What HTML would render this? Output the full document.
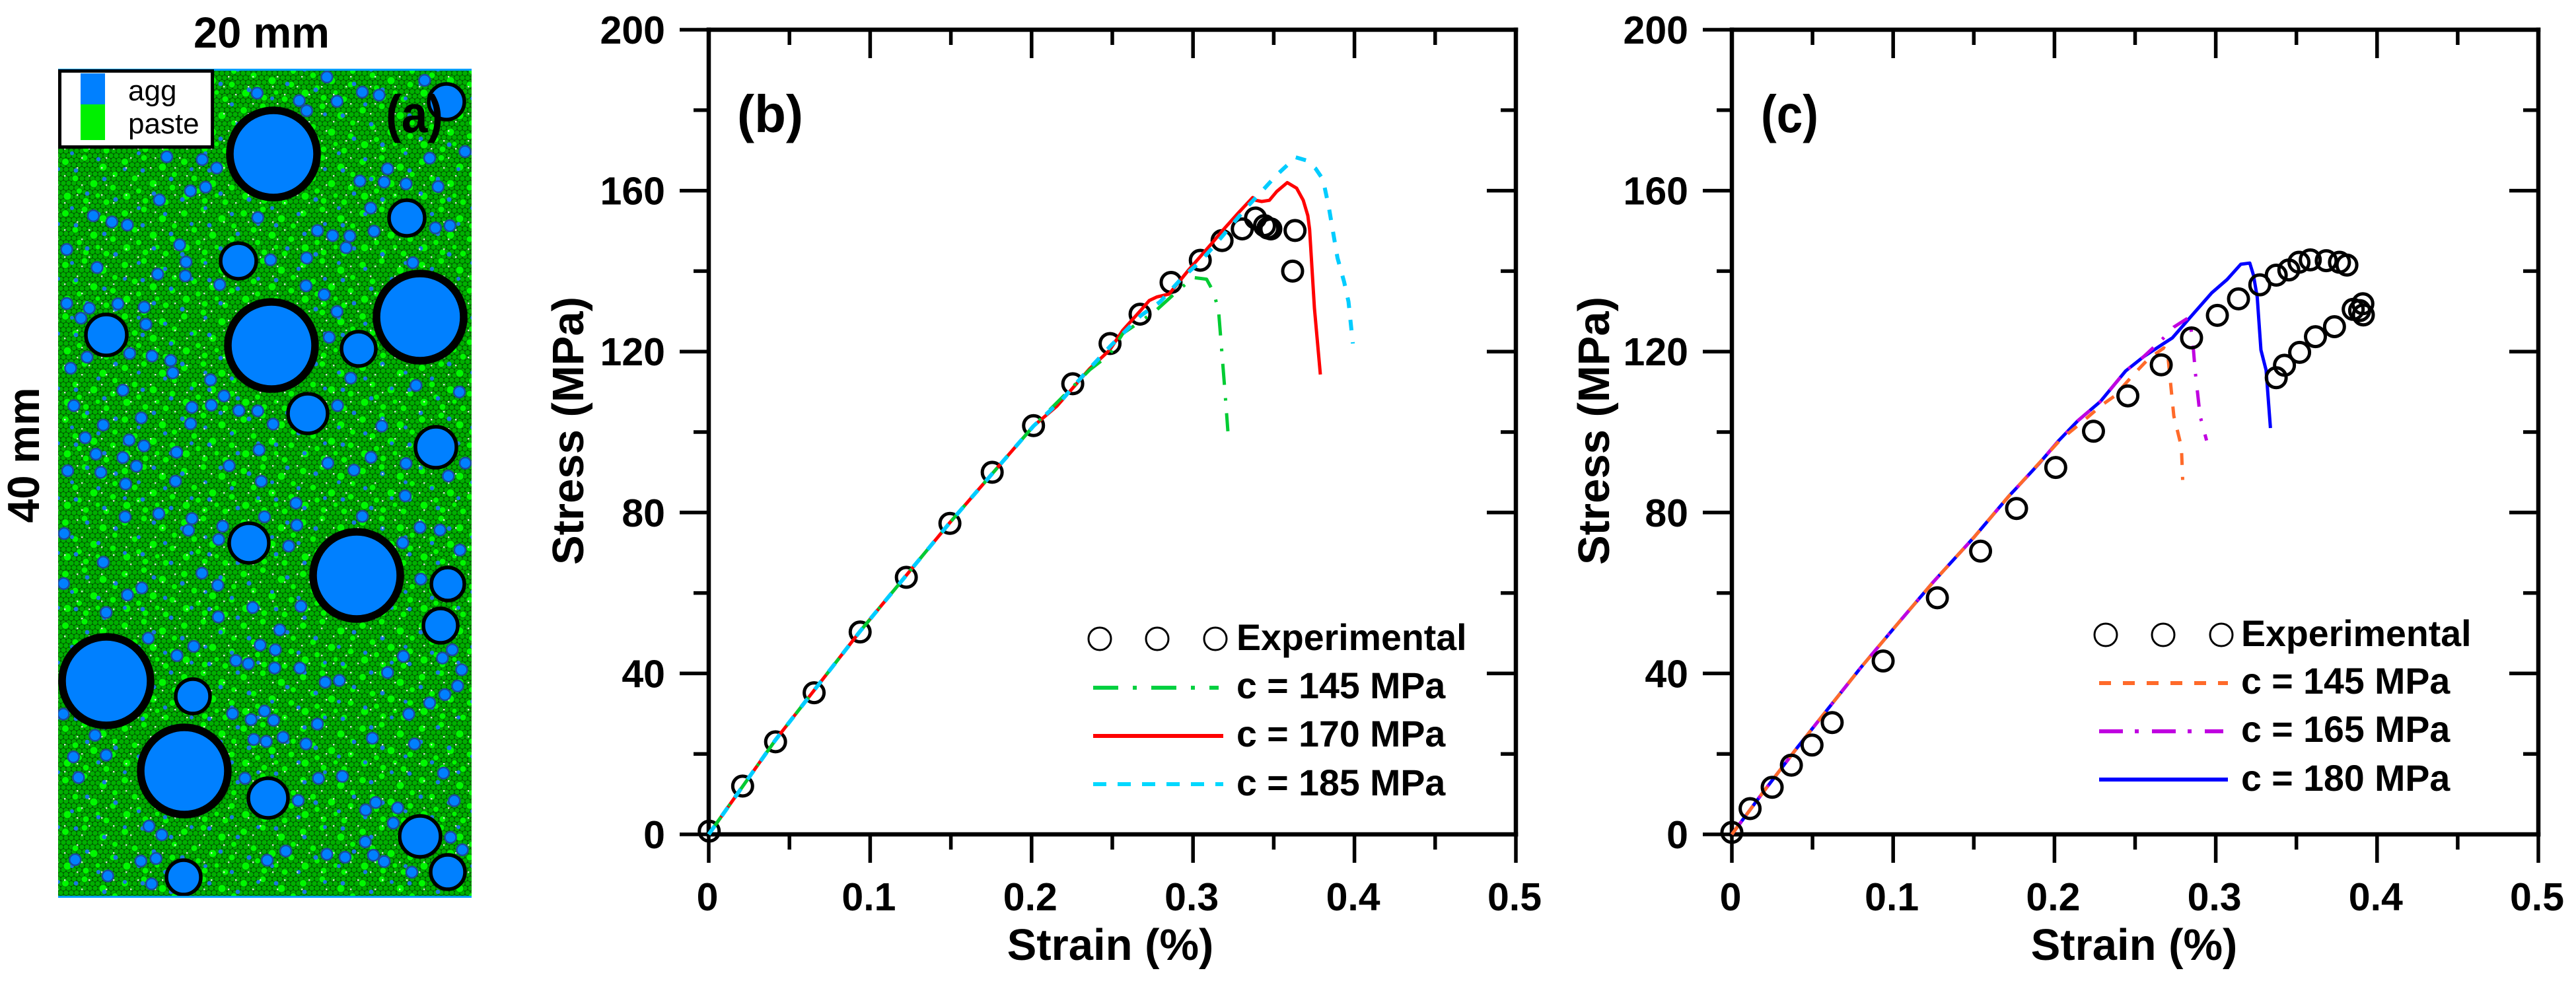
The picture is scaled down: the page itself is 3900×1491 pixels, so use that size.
<!DOCTYPE html>
<html lang="en">
<head>
<meta charset="utf-8">
<title>Specimen and stress-strain curves</title>
<style>
html,body{margin:0;padding:0;background:#fff;}
svg{display:block;}
text{font-family:"Liberation Sans",Arial,sans-serif;fill:#000;}
.b{font-weight:bold;}
</style>
</head>
<body>
<svg id="figure" xmlns="http://www.w3.org/2000/svg" width="3900" height="1491" viewBox="0 0 3900 1491">
<defs>
<pattern id="paste-cells" patternUnits="userSpaceOnUse" width="8" height="13.86">
<rect width="8" height="13.86" fill="#005000"/>
<circle cx="0" cy="0" r="3.7" fill="#00b000"/><circle cx="8" cy="0" r="3.7" fill="#00b000"/>
<circle cx="0" cy="13.86" r="3.7" fill="#00b000"/><circle cx="8" cy="13.86" r="3.7" fill="#00b000"/>
<circle cx="4" cy="6.93" r="3.7" fill="#00b000"/>
</pattern>
<pattern id="paste-bright" patternUnits="userSpaceOnUse" width="90" height="78">
<g fill="#00f800" stroke="#008a00" stroke-width="1">
<circle cx="9" cy="11" r="5.5"/><circle cx="38" cy="5" r="5"/><circle cx="66" cy="19" r="6"/>
<circle cx="24" cy="36" r="5"/><circle cx="52" cy="44" r="6"/><circle cx="81" cy="50" r="5"/>
<circle cx="12" cy="63" r="6"/><circle cx="40" cy="70" r="5"/><circle cx="71" cy="72" r="5"/>
<circle cx="84" cy="30" r="4.5"/><circle cx="30" cy="55" r="4.5"/><circle cx="58" cy="62" r="4"/>
</g>
</pattern>
<pattern id="paste-blue" patternUnits="userSpaceOnUse" width="101" height="83">
<g fill="#1a78e0">
<circle cx="14" cy="9" r="3.4"/><circle cx="57" cy="22" r="3.4"/><circle cx="88" cy="7" r="3"/>
<circle cx="31" cy="44" r="3.4"/><circle cx="74" cy="53" r="3.6"/><circle cx="8" cy="66" r="3"/>
<circle cx="48" cy="75" r="3.2"/>
</g>
</pattern>
<pattern id="paste-specks" patternUnits="userSpaceOnUse" width="37" height="41">
<g fill="#cfe4cf"><rect x="5" y="7" width="2.4" height="2.4"/><rect x="23" y="19" width="2.4" height="2.4"/><rect x="12" y="33" width="2.4" height="2.4"/></g>
</pattern>
<clipPath id="specimen-clip"><rect x="88" y="105" width="626" height="1253"/></clipPath>
</defs>

<g id="panel-a">
<text class="b" x="396" y="72" font-size="66" text-anchor="middle" textLength="206" lengthAdjust="spacingAndGlyphs">20 mm</text>
<text class="b" transform="translate(59,689) rotate(-90)" font-size="68" text-anchor="middle" textLength="205" lengthAdjust="spacingAndGlyphs">40 mm</text>
<g clip-path="url(#specimen-clip)">
<rect x="88" y="105" width="626" height="1253" fill="url(#paste-cells)"/>
<rect x="88" y="105" width="626" height="1253" fill="url(#paste-bright)"/>
<rect x="88" y="105" width="626" height="1253" fill="url(#paste-blue)"/>
<rect x="88" y="105" width="626" height="1253" fill="url(#paste-specks)"/>
<g id="particles"></g>
</g>
<rect x="88" y="104" width="626" height="3" fill="#00a0ff"/>
<rect x="88" y="1356" width="626" height="3" fill="#00a0ff"/>
<g>
<rect x="90.500" y="107.500" width="231" height="115" fill="#fff" stroke="#000" stroke-width="5"/>
<rect x="122" y="111" width="37" height="47" fill="#0080ff"/>
<rect x="122" y="158" width="37" height="54" fill="#00f000"/>
<text x="194" y="152" font-size="44">agg</text>
<text x="194" y="202" font-size="44">paste</text>
</g>
<text class="b" x="584" y="200" font-size="80" textLength="87" lengthAdjust="spacingAndGlyphs">(a)</text>
</g>

<g id="panel-b">
<text class="b" transform="translate(883,652) rotate(-90)" font-size="67" text-anchor="middle">Stress (MPa)</text>
<text class="b" x="1681" y="1453" font-size="67" text-anchor="middle">Strain (%)</text>
<text class="b" x="1116" y="200" font-size="80" textLength="100" lengthAdjust="spacingAndGlyphs">(b)</text>
<g id="panel-b-plot"></g>
<g>
<g fill="none" stroke="#000" stroke-width="3">
<circle cx="1665" cy="967" r="17"/><circle cx="1752" cy="967" r="17"/><circle cx="1840" cy="967" r="17"/>
</g>
<text class="b" x="1872" y="984" font-size="55.500">Experimental</text>
<line x1="1655" y1="1041" x2="1845" y2="1041" stroke="#00d040" stroke-width="6" stroke-dasharray="38 22 6 22"/>
<text class="b" x="1872" y="1057" font-size="55.500">c = 145 MPa</text>
<line x1="1655" y1="1114" x2="1852" y2="1114" stroke="#ff0000" stroke-width="6"/>
<text class="b" x="1872" y="1130" font-size="55.500">c = 170 MPa</text>
<line x1="1655" y1="1187" x2="1852" y2="1187" stroke="#00d8ff" stroke-width="6" stroke-dasharray="20 17"/>
<text class="b" x="1872" y="1204" font-size="55.500">c = 185 MPa</text>
</g>
</g>

<g id="panel-c">
<text class="b" transform="translate(2436,652) rotate(-90)" font-size="67" text-anchor="middle">Stress (MPa)</text>
<text class="b" x="3231" y="1453" font-size="67" text-anchor="middle">Strain (%)</text>
<text class="b" x="2666" y="200" font-size="80" textLength="87" lengthAdjust="spacingAndGlyphs">(c)</text>
<g id="panel-c-plot"></g>
<g>
<g fill="none" stroke="#000" stroke-width="3">
<circle cx="3188" cy="961" r="17"/><circle cx="3275" cy="961" r="17"/><circle cx="3363" cy="961" r="17"/>
</g>
<text class="b" x="3393" y="978" font-size="55.500">Experimental</text>
<line x1="3178" y1="1034" x2="3373" y2="1034" stroke="#ff6a2a" stroke-width="6" stroke-dasharray="18 18"/>
<text class="b" x="3393" y="1050" font-size="55.500">c = 145 MPa</text>
<line x1="3178" y1="1107" x2="3366" y2="1107" stroke="#c000e0" stroke-width="6" stroke-dasharray="36 18 6 20"/>
<text class="b" x="3393" y="1123" font-size="55.500">c = 165 MPa</text>
<line x1="3178" y1="1180" x2="3373" y2="1180" stroke="#0000ff" stroke-width="6"/>
<text class="b" x="3393" y="1197" font-size="55.500">c = 180 MPa</text>
</g>
</g>
</svg>

<script>
// Shared axis labels
const strainMajorTicks = [0, 0.1, 0.2, 0.3, 0.4, 0.5];
const strainTickLabels = ["0", "0.1", "0.2", "0.3", "0.4", "0.5"];
const strainMinorTicks = [0.05, 0.15, 0.25, 0.35, 0.45];
const stressMajorTicks = [0, 40, 80, 120, 160, 200];
const stressTickLabels = ["0", "40", "80", "120", "160", "200"];
const stressMinorTicks = [20, 60, 100, 140, 180];

// Panel (b)
const bExpStrain = [0.0003,0.021,0.0414,0.0653,0.0938,0.1224,0.1494,0.1756,0.2012,0.2255,0.2486,0.2672,0.2864,0.3045,0.318,0.3305,0.3387,0.3443,0.3464,0.3482,0.3632,0.3617];
const bExpStress = [0.8,12,23,35.2,50.3,63.9,77.3,90,101.6,112,122,129.3,137.2,142.7,147.6,150.5,153.2,151.3,150.7,150.5,150.1,140];
const bC170Strain = [0,0.0414,0.0938,0.1494,0.2012,0.2156,0.2361,0.2484,0.2565,0.2675,0.2729,0.2777,0.2852,0.2975,0.311,0.3192,0.3288,0.337,0.339,0.3425,0.3473,0.3519,0.3584,0.3642,0.3683,0.3711,0.3722,0.3752,0.3789];
const bC170Stress = [0,23.5,50.5,77.5,101.5,106.4,115.8,120.4,125.3,130.2,132.7,133.6,134.3,140.4,146.6,150.5,154.8,158.3,157.6,157.3,157.6,159.8,162,160.6,157.6,153.8,150.4,130.8,114.3];
const bC145Strain = [0,0.0414,0.0938,0.1494,0.2012,0.2361,0.2484,0.2565,0.2675,0.277,0.2905,0.3002,0.3084,0.313,0.3159,0.3179,0.32,0.3216];
const bC145Stress = [0,23.5,50.5,77.5,101.5,115.5,119.3,124.5,127.5,130.2,135.1,138.4,138,134.6,129.7,119.8,108.9,100.2];
const bC185Strain = [0,0.0414,0.0938,0.1494,0.2012,0.2197,0.232,0.2484,0.2675,0.2797,0.2934,0.3043,0.3138,0.3329,0.3425,0.3519,0.3636,0.3703,0.3759,0.3805,0.3841,0.3895,0.3936,0.3963,0.399];
const bC185Stress = [0,23.5,50.5,77.5,101.5,108.4,114.1,121.2,128.9,132.4,138.4,142.3,146.6,155.7,159.8,163.9,168.3,167.5,165.5,162.8,156,143.3,137.3,132.4,122];

// Panel (c)
const cExpStrain = [0,0.0113,0.025,0.0369,0.0497,0.0622,0.0938,0.1274,0.1542,0.1765,0.2008,0.2242,0.2455,0.2662,0.285,0.301,0.3141,0.3273,0.3375,0.3453,0.3516,0.3586,0.3685,0.3767,0.3813,0.3892,0.3912,0.3915,0.3852,0.3736,0.3618,0.352,0.3426,0.3375];
const cExpStress = [0.5,6.4,11.7,17.2,22.2,27.8,43.1,58.8,70.4,81,91.2,100.2,109,116.7,123.4,129,133.1,136.6,139,140.3,142.2,142.8,142.6,142.2,141.5,130.2,131.9,129.1,130.5,126.2,123.7,119.8,116.6,113.5];
const cC145Strain = [0,0.02,0.04,0.0586,0.08,0.1012,0.125,0.15,0.172,0.1753,0.2035,0.2175,0.2293,0.2371,0.249,0.2583,0.2678,0.27,0.2716,0.274,0.2787,0.2795];
const cC145Stress = [0,10.8,21.3,30.7,41.5,51.6,62.8,73.8,84.2,85.6,98,102.6,106.7,108.9,114.3,118.2,120.9,120.4,113.8,104,96.3,88.1];
const cC165Strain = [0,0.02,0.04,0.0586,0.08,0.1012,0.125,0.15,0.172,0.1753,0.191,0.2027,0.2145,0.2285,0.2442,0.2552,0.2677,0.274,0.2826,0.2842,0.2858,0.2873,0.2903,0.2943];
const cC165Stress = [0,10.8,21.3,30.7,41.5,51.6,62.8,73.8,84.2,85.6,92.4,97.9,102.8,107.6,115.2,118.7,123.4,126.1,128.3,126.9,122.3,114.9,104,97.9];
const cC180Strain = [0,0.02,0.04,0.0586,0.08,0.1012,0.125,0.15,0.172,0.1753,0.191,0.2027,0.2145,0.2285,0.2442,0.2552,0.2677,0.2731,0.285,0.2975,0.307,0.3155,0.3211,0.3234,0.3257,0.328,0.3312,0.3339];
const cC180Stress = [0,10.8,21.3,30.7,41.5,51.6,62.8,73.8,84.2,85.6,92.4,97.9,102.8,107.6,115.2,118.7,122,123.4,128.9,134.6,137.9,141.7,142,139,133.5,120.4,115.4,101];

// Specimen illustration particles, measured from the specimen image
const largeParticles = [[414,233,66],[636,480,66],[411,523,66],[540,871,66],[161,1031,67],[279,1167,66]];
const mediumParticles = [[616,330,27],[361,395,27],[676,154,27],[161,507,31],[543,528,26],[466,626,30],[660,677,31],[377,822,30],[678,884,25],[667,947,26],[292,1054,26],[406,1208,30],[636,1266,31],[678,1320,26],[278,1328,26]];
const smallUpper = [[970,350],[1260,365],[763,423],[1075,418],[1125,432],[888,457],[1000,460],[910,503],[495,712],[600,725],[643,763],[1380,688],[1275,718],[1150,767],[1068,822],[1140,827],[1205,835],[1300,848],[610,850],[565,867],[473,908],[1100,945],[765,988],[277,980],[332,1008],[378,1022],[1335,1025],[1292,1035],[942,1047],[987,1070],[1038,1072],[1110,1050],[1027,1125],[533,1112],[198,1133],[803,1180],[910,1172],[552,1190],[1225,1193],[288,1215],[468,1245],[550,1253],[652,1293],[908,1298],[962,1338],[198,1378],[350,1380],[265,1400],[428,1395],[240,1445],[1000,1415],[433,1473]];
const smallMiddle = [[127,182],[285,165],[368,177],[437,197],[66,232],[445,253],[585,285],[260,332],[635,358],[78,402],[516,410],[588,400],[690,424],[760,426],[328,458],[187,490],[511,484],[817,486],[120,548],[283,558],[338,585],[160,622],[260,638],[459,614],[765,603],[654,675],[310,677],[178,705],[55,698],[455,745],[773,746],[270,758],[1025,92],[1105,277],[1347,310],[1508,340],[1056,402],[1220,495],[1180,637],[1020,663],[1310,665],[1530,663],[1117,695],[1467,722],[1307,812],[902,845],[268,907],[393,893],[516,915],[785,907],[1148,905],[630,950],[905,945],[503,968],[42,983],[1362,955],[1436,967],[615,1010],[875,1040],[1298,1025],[1510,1058],[187,1113],[553,1163],[1365,1190],[40,1210],[612,1218],[330,1230],[277,1262]];
const smallLower = [[315,72],[750,52],[893,47],[648,90],[830,142],[440,175],[575,208],[772,203],[817,222],[525,245],[700,265],[737,278],[815,295],[890,295],[1197,248],[1342,222],[1313,255],[1370,302],[1150,313],[965,352],[1007,345],[1358,367],[1320,402],[1275,435],[1213,480],[188,480],[690,478],[785,468],[745,502],[812,505],[942,520],[282,565],[753,582],[790,590],[840,573],[908,600],[1105,577],[1230,600],[218,652],[315,645],[1316,717],[233,735],[727,738],[945,738],[1016,730],[1348,828],[885,827],[1115,835],[1085,865],[1180,857],[1167,918],[442,930],[480,965],[1337,975],[1084,993],[848,1030],[1372,1025],[970,1043],[1024,1055],[1108,1047],[1140,1072],[223,1065],[418,1070],[463,1060],[793,1067],[1222,1115],[320,1130],[450,1162]];

const SVGNS = "http://www.w3.org/2000/svg";
function svgEl(tag, attrs, parent) {
  const el = document.createElementNS(SVGNS, tag);
  for (const k in attrs) el.setAttribute(k, attrs[k]);
  parent.appendChild(el);
  return el;
}

// Draw specimen particles
const particleGroup = document.getElementById("particles");
function addSmall(cx, cy) {
  const el = svgEl("circle", {cx: cx, cy: cy, r: 8.5, fill: "#0080ff", stroke: "#1c4a9c", "stroke-width": 2.5}, particleGroup);
  
  
}
smallUpper.forEach(function (p) { addSmall(p[0] / 1.96, p[1] / 3); });
smallMiddle.forEach(function (p) { addSmall(p[0] / 2.45 + 80, p[1] / 3 + 480); });
smallLower.forEach(function (p) { addSmall(p[0] / 1.96, 900 + p[1] / 2.653); });
mediumParticles.forEach(function (p) {
  const el = svgEl("circle", {cx: p[0], cy: p[1], r: p[2], fill: "#0080ff", stroke: "#000", "stroke-width": 5.5}, particleGroup);
  
  
});
largeParticles.forEach(function (p) {
  const el = svgEl("circle", {cx: p[0], cy: p[1], r: p[2], fill: "#0080ff", stroke: "#000", "stroke-width": 11.5}, particleGroup);
  
  
});

// Chart drawing
const PLOT_TOP = 45, PLOT_BOTTOM = 1263;
function yScale(v) { return PLOT_BOTTOM - (v / 200) * (PLOT_BOTTOM - PLOT_TOP); }
function makeXScale(left, right) {
  return function (v) { return left + (v / 0.5) * (right - left); };
}
function tickLine(parent, x1, y1, x2, y2, name) {
  const el = svgEl("line", {x1: x1, y1: y1, x2: x2, y2: y2, stroke: "#000", "stroke-width": 5.5, "stroke-linecap": "butt"}, parent);
  
  
}
function drawAxes(g, left, right, xScale) {
  const lineEls = [[left, PLOT_TOP, left, PLOT_BOTTOM, 'left-axis-line'], [right, PLOT_TOP, right, PLOT_BOTTOM, 'right-axis-line'], [left, PLOT_TOP, right, PLOT_TOP, 'top-axis-line'], [left, PLOT_BOTTOM, right, PLOT_BOTTOM, 'bottom-axis-line']];
  lineEls.forEach(function (a) {
    const el = svgEl("line", {x1: a[0], y1: a[1], x2: a[2], y2: a[3], stroke: "#000", "stroke-width": 6.5, "stroke-linecap": "square"}, g);
    
    
  });
  stressMajorTicks.forEach(function (v, i) {
    const y = yScale(v);
    tickLine(g, left - 44, y, left, y, 'y-major-tick');
    tickLine(g, right - 44, y, right, y, 'y-major-tick-right');
    const t = svgEl("text", {x: left - 66, y: y + 21, "font-size": 59, "font-weight": "bold", "text-anchor": "end"}, g);
    
    
    t.textContent = stressTickLabels[i];
  });
  stressMinorTicks.forEach(function (v) {
    const y = yScale(v);
    tickLine(g, left - 23, y, left, y, 'y-minor-tick');
    tickLine(g, right - 23, y, right, y, 'y-minor-tick-right');
  });
  strainMajorTicks.forEach(function (v, i) {
    const x = xScale(v);
    tickLine(g, x, PLOT_BOTTOM, x, PLOT_BOTTOM + 43, 'x-major-tick');
    tickLine(g, x, PLOT_TOP, x, PLOT_TOP + 43, 'x-major-tick-top');
    const t = svgEl("text", {x: x - 2, y: 1378, "font-size": 59, "font-weight": "bold", "text-anchor": "middle"}, g);
    
    
    t.textContent = strainTickLabels[i];
  });
  strainMinorTicks.forEach(function (v) {
    const x = xScale(v);
    tickLine(g, x, PLOT_BOTTOM, x, PLOT_BOTTOM + 23, 'x-minor-tick');
    tickLine(g, x, PLOT_TOP, x, PLOT_TOP + 23, 'x-minor-tick-top');
  });
}
function drawCurve(g, strain, stress, xScale, color, width, dash, name) {
  const pts = strain.map(function (s, i) { return xScale(s).toFixed(1) + "," + yScale(stress[i]).toFixed(1); }).join(" ");
  const el = svgEl("polyline", {points: pts, fill: "none", stroke: color, "stroke-width": width, "stroke-linejoin": "round"}, g);
  if (dash) el.setAttribute("stroke-dasharray", dash);
  
  
}
function drawExperimental(g, strain, stress, xScale) {
  strain.forEach(function (s, i) {
    const el = svgEl("circle", {cx: xScale(s), cy: yScale(stress[i]), r: 15, fill: "none", stroke: "#000", "stroke-width": 5}, g);
    
    
  });
}

// Panel (b)
const bX = makeXScale(1073, 2295);
const bPlot = document.getElementById("panel-b-plot");
drawAxes(bPlot, 1073, 2295, bX);
drawExperimental(bPlot, bExpStrain, bExpStress, bX);
drawCurve(bPlot, bC170Strain, bC170Stress, bX, "#ff0000", 5, null, 'curve-c170');
drawCurve(bPlot, bC145Strain, bC145Stress, bX, "#00cc33", 5, "32 20 4 19", 'curve-c145');
drawCurve(bPlot, bC185Strain, bC185Stress, bX, "#00ccff", 6, "16 18", 'curve-c185');

// Panel (c)
const cX = makeXScale(2622, 3843);
const cPlot = document.getElementById("panel-c-plot");
drawAxes(cPlot, 2622, 3843, cX);
drawCurve(cPlot, cC180Strain, cC180Stress, cX, "#0000ff", 5, null, 'curve-c180');
drawCurve(cPlot, cC165Strain, cC165Stress, cX, "#c000e0", 5, "25 18 4 21", 'curve-c165');
drawCurve(cPlot, cC145Strain, cC145Stress, cX, "#ff6a2a", 5, "18 18", 'curve-c145');
drawExperimental(cPlot, cExpStrain, cExpStress, cX);
</script>
</body>
</html>
